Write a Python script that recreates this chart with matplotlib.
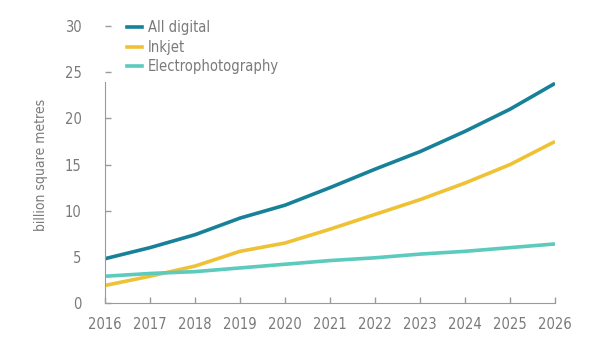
import matplotlib.pyplot as plt
from matplotlib.lines import Line2D
from matplotlib import font_manager

years = [2016, 2017, 2018, 2019, 2020, 2021, 2022, 2023, 2024, 2025, 2026]
all_digital = [4.8, 6.0, 7.4, 9.2, 10.6, 12.5, 14.5, 16.4, 18.6, 21.0, 23.8]
inkjet = [1.9, 2.9, 4.0, 5.6, 6.5, 8.0, 9.6, 11.2, 13.0, 15.0, 17.5]
electro = [2.9, 3.2, 3.4, 3.8, 4.2, 4.6, 4.9, 5.3, 5.6, 6.0, 6.4]
names = ['All digital', 'Inkjet', 'Electrophotography']
colors = ['#17819a', '#efc236', '#5ccabd']

avail = set(f.name for f in font_manager.fontManager.ttflist)
narrow = [n for n in ['Liberation Sans Narrow', 'DejaVu Sans Condensed'] if n in avail]
plt.rcParams['font.family'] = narrow + ['DejaVu Sans']
plt.rcParams['font.stretch'] = 'condensed'
grey = '#7a7a7a'

fig = plt.figure(figsize=(6, 3.58), dpi=100, facecolor='white')
ax = fig.add_axes([0.175, 0.1536, 0.75, 0.7734])

for vals, c in zip([all_digital, inkjet, electro], colors):
    ax.plot(years, vals, color=c, linewidth=2.6, solid_capstyle='butt')

ax.set_xlim(2016, 2026)
ax.set_ylim(0, 30)
ax.set_xticks(years)
ax.set_yticks(range(0, 31, 5))
ax.tick_params(direction='in', colors='#9a9a9a', labelcolor=grey,
               labelsize=10.5, length=4, width=1)
ax.tick_params(axis='x', pad=10)
ax.tick_params(axis='y', pad=17)

for s in ['top', 'right']:
    ax.spines[s].set_visible(False)
ax.spines['left'].set_bounds(0, 24)
ax.spines['left'].set_color('#9a9a9a')
ax.spines['bottom'].set_color('#9a9a9a')

ax.set_ylabel('billion square metres', color=grey, fontsize=10, labelpad=12)

handles = [Line2D([], [], color=c, linewidth=2.6) for c in colors]
ax.legend(handles, names, loc='upper left', bbox_to_anchor=(0.02, 1.068),
          frameon=False, fontsize=10.5, labelcolor=grey, handlelength=1.0,
          handletextpad=0.4, labelspacing=0.3)

fig.savefig('out.png', dpi=100)
